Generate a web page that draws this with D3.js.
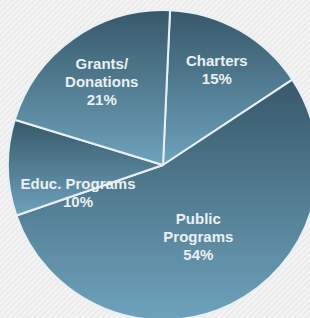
<!DOCTYPE html>
<html>
<head>
<meta charset="utf-8">
<script src="https://cdn.jsdelivr.net/npm/d3@7"></script>
<style>
  html, body { margin: 0; padding: 0; overflow: hidden; }
  body { width: 310px; height: 318px; }
</style>
</head>
<body>
<script>
const categories = ['Charters', 'Public Programs', 'Educ. Programs', 'Grants/ Donations'];
const values = [15, 54, 10, 21];
// label lines per slice
const labelLines = [
  ['Charters', '15%'],
  ['Public', 'Programs', '54%'],
  ['Educ. Programs', '10%'],
  ['Grants/', 'Donations', '21%']
];

const width = 310;
const height = 318;
const cx = 163;
const cy = 165;
const radius = 155;

const svg = d3.select('body')
  .append('svg')
  .attr('width', width)
  .attr('height', height);

const defs = svg.append('defs');

// striped background
const pattern = defs.append('pattern')
  .attr('id', 'stripes')
  .attr('width', 4)
  .attr('height', 4)
  .attr('patternUnits', 'userSpaceOnUse')
  .attr('patternTransform', 'rotate(45)');
pattern.append('rect').attr('width', 4).attr('height', 4).attr('fill', '#f4f4f4');
pattern.append('rect').attr('width', 1.5).attr('height', 4).attr('fill', '#e9e9e9');

svg.append('rect')
  .attr('width', width)
  .attr('height', height)
  .attr('fill', 'url(#stripes)');

const pie = d3.pie()
  .sort(null)
  .startAngle(2.6 * Math.PI / 180)
  .endAngle(2 * Math.PI + 2.6 * Math.PI / 180)
  .value((d) => d);

const arcs = pie(values);

const arc = d3.arc().innerRadius(0).outerRadius(radius);

arcs.forEach((d, i) => {
  const g = defs.append('linearGradient')
    .attr('id', 'grad' + i)
    .attr('x1', 0).attr('y1', 0)
    .attr('x2', 0).attr('y2', 1);
  g.append('stop').attr('offset', '0%').attr('stop-color', '#375869');
  g.append('stop').attr('offset', '100%').attr('stop-color', '#6ea2bc');
});

const chart = svg.append('g')
  .attr('transform', 'translate(' + cx + ',' + cy + ')');

chart.selectAll('path')
  .data(arcs)
  .enter()
  .append('path')
  .attr('d', arc)
  .attr('fill', (d, i) => 'url(#grad' + i + ')')
  .attr('stroke', '#e8f0f4')
  .attr('stroke-width', 2)
  .attr('stroke-linejoin', 'round');

// label radius and nudge per slice
const labelRadius = [109, 80, 88, 101];
const labelNudge = [[0, 0], [0, 0], [3, 26], [-3, 0]];
const lineHeight = 18;

arcs.forEach((d, i) => {
  const la = d3.arc().innerRadius(labelRadius[i]).outerRadius(labelRadius[i]);
  const [x, y] = la.centroid(d);
  const lines = labelLines[i];
  const text = chart.append('text')
    .attr('text-anchor', 'middle')
    .attr('font-family', 'Liberation Sans, Arial, sans-serif')
    .attr('font-weight', 'bold')
    .attr('font-size', 15)
    .attr('fill', '#eaf0f3');
  lines.forEach((line, j) => {
    text.append('tspan')
      .attr('x', x + labelNudge[i][0])
      .attr('y', y + labelNudge[i][1] + (j - (lines.length - 1) / 2) * lineHeight + 5)
      .text(line);
  });
});
</script>
</body>
</html>
